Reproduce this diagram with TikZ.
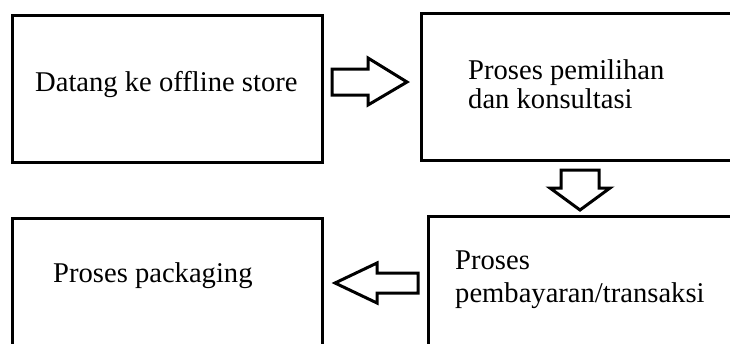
\documentclass[tikz,border=0pt]{standalone}
\usepackage{fontspec}
\setmainfont{Liberation Serif}
\usetikzlibrary{calc}

\tikzset{
  kotak/.style={draw, line width=3pt, inner sep=0pt},
  teks/.style={anchor=base west, inner sep=0pt, font=\fontsize{28.6}{30}\selectfont},
  panah/.style={draw, line width=3pt, line join=miter, fill=white}
}

\begin{document}
\begin{tikzpicture}[x=1pt, y=-1pt]

    \useasboundingbox (0,0) rectangle (730,343);
    \clip (0,0) rectangle (730,343);

    \node[kotak, minimum width=310pt, minimum height=147pt] (datang) at (167,88.5) {};
    \node[kotak, minimum width=340pt, minimum height=147pt] (pemilihan) at (591,86.5) {};
    \node[kotak, minimum width=340pt, minimum height=170pt] (bayar) at (598,301) {};
    \node[kotak, minimum width=310pt, minimum height=170pt] (packaging) at (167,303) {};

    \node[teks] (tdatang) at (35,91) {Datang ke offline store};
    \node[teks] (tpilih1) at (468,79) {Proses pemilihan};
    \node[teks] (tpilih2) at (468,108) {dan konsultasi};
    \node[teks] (tbayar1) at (455,269) {Proses};
    \node[teks] (tbayar2) at (455,302) {pembayaran/transaksi};
    \node[teks] (tpack) at (53,282) {Proses packaging};

    \draw[panah] (332,69) -- (368,69) -- (368,58) -- (407,82) -- (368,105) -- (368,95) -- (332,95) -- cycle;
    \draw[panah] (561,170) -- (599,170) -- (599,188) -- (610,188) -- (580,210) -- (550,188) -- (561,188) -- cycle;
    \draw[panah] (418,273) -- (377,273) -- (377,263) -- (335,283) -- (377,303) -- (377,293) -- (418,293) -- cycle;

\end{tikzpicture}
\end{document}
